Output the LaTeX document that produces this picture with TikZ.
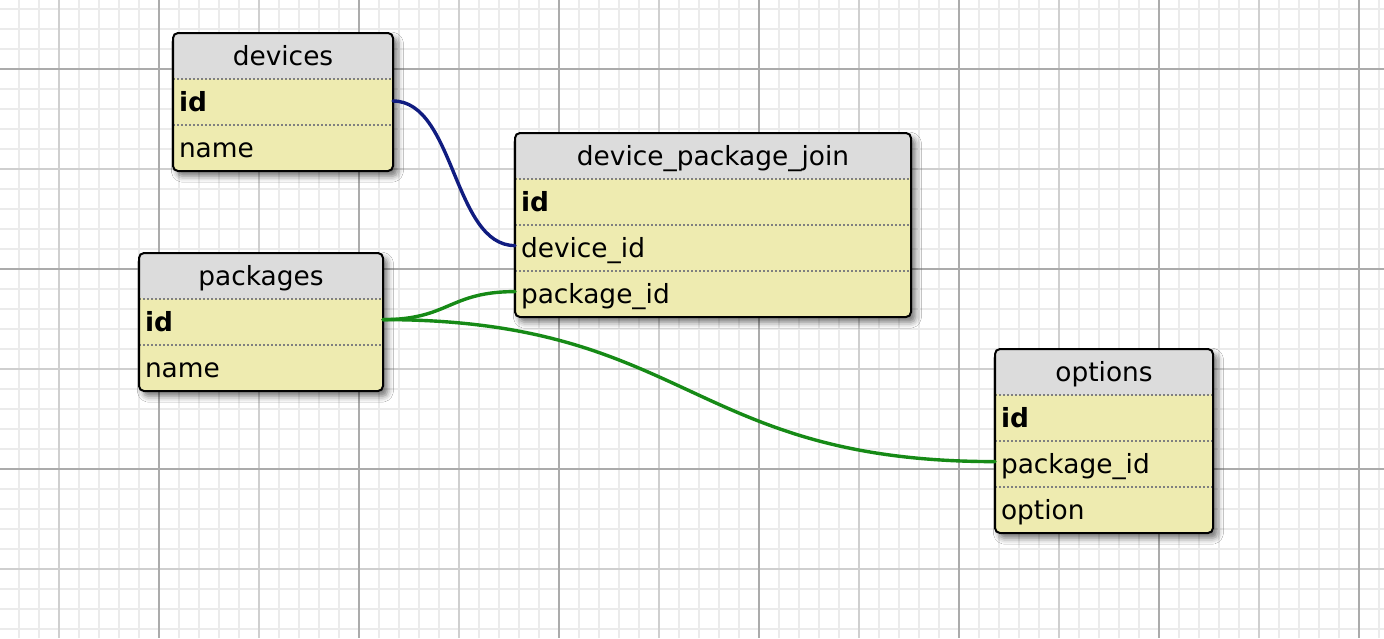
\documentclass[tikz,border=0pt]{standalone}
\usepackage{fontspec}
\setmainfont{DejaVu Sans}
\usetikzlibrary{shadows.blur}
\definecolor{hdrfill}{HTML}{DCDCDC}
\definecolor{rowfill}{HTML}{EEEBB0}
\definecolor{sepgray}{HTML}{808080}
\definecolor{gridminor}{HTML}{EBEBEB}
\definecolor{gridmid}{HTML}{CFCFCF}
\definecolor{gridmajor}{HTML}{ABABAB}
\definecolor{linkblue}{HTML}{101C80}
\definecolor{linkgreen}{HTML}{168A16}
\tikzset{
  tablebox/.style={fill=rowfill, rounded corners=2.5pt, inner sep=0pt, outer sep=0pt, anchor=north west,
    blur shadow={shadow xshift=2.2pt, shadow yshift=-2.6pt, shadow blur radius=3pt, shadow opacity=55},
    path picture={\fill[hdrfill] (path picture bounding box.north west) rectangle ([yshift=-23pt]path picture bounding box.north east);}},
  frame/.style={draw=black, line width=1pt, rounded corners=2.5pt},
  title/.style={inner sep=0pt, font=\fontsize{13.2}{16}\selectfont, text height=9.3pt, text depth=0pt},
  field/.style={anchor=north west, inner xsep=3pt, inner ysep=0pt, outer sep=0pt, minimum height=23pt, align=left,
    font=\fontsize{13.2}{16}\selectfont, text height=9.3pt, text depth=0pt},
  sepline/.style={draw=sepgray, line width=0.9pt, dash pattern=on 0.9pt off 1.1pt},
  link/.style={line width=1.7pt, line cap=round},
  minorgrid/.style={draw=gridminor, line width=1pt},
  midgrid/.style={draw=gridmid, line width=1pt},
  majorgrid/.style={draw=gridmajor, line width=1pt},
}
\begin{document}
\begin{tikzpicture}[x=0.5pt, y=-0.5pt]
\useasboundingbox (0,0) rectangle (1384,638);
\fill[white] (0,0) rectangle (1384,638);
% grid
\foreach \i in {0,...,68} \draw[minorgrid] ({18.7+20*\i},0) -- ({18.7+20*\i},638);
\foreach \j in {0,...,31} \draw[minorgrid] (0,{8.7+20*\j}) -- (1384,{8.7+20*\j});
\foreach \i in {0,...,6} \draw[midgrid] ({58.7+200*\i},0) -- ({58.7+200*\i},638);
\foreach \j in {0,...,2} \draw[midgrid] (0,{168.7+200*\j}) -- (1384,{168.7+200*\j});
\foreach \i in {0,...,6} \draw[majorgrid] ({158.7+200*\i},0) -- ({158.7+200*\i},638);
\foreach \j in {0,...,2} \draw[majorgrid] (0,{68.7+200*\j}) -- (1384,{68.7+200*\j});

% devices
\node[tablebox, minimum width=110pt, minimum height=69pt] (dev) at (173,33) {};
\node[title] (dev-t) at ([yshift=-11.5pt]dev.north) {devices};
\node[field, text width=104pt] (dev-id) at ([yshift=-23pt]dev.north west) {\bfseries id};
\node[field, text width=104pt] (dev-name) at (dev-id.south west) {name};
\draw[sepline] (dev-id.north west) -- (dev-id.north east);
\draw[sepline] (dev-name.north west) -- (dev-name.north east);
\draw[frame] (dev.north west) rectangle (dev.south east);

% packages
\node[tablebox, minimum width=122pt, minimum height=69pt] (pkg) at (139,253) {};
\node[title] (pkg-t) at ([yshift=-11.5pt]pkg.north) {packages};
\node[field, text width=116pt] (pkg-id) at ([yshift=-23pt]pkg.north west) {\bfseries id};
\node[field, text width=116pt] (pkg-name) at (pkg-id.south west) {name};
\draw[sepline] (pkg-id.north west) -- (pkg-id.north east);
\draw[sepline] (pkg-name.north west) -- (pkg-name.north east);
\draw[frame] (pkg.north west) rectangle (pkg.south east);

% device_package_join
\node[tablebox, minimum width=198pt, minimum height=92pt] (dpj) at (515,133) {};
\node[title] (dpj-t) at ([yshift=-11.5pt]dpj.north) {device\_package\_join};
\node[field, text width=192pt] (dpj-id) at ([yshift=-23pt]dpj.north west) {\bfseries id};
\node[field, text width=192pt] (dpj-dev) at (dpj-id.south west) {device\_id};
\node[field, text width=192pt] (dpj-pkg) at (dpj-dev.south west) {package\_id};
\draw[sepline] (dpj-id.north west) -- (dpj-id.north east);
\draw[sepline] (dpj-dev.north west) -- (dpj-dev.north east);
\draw[sepline] (dpj-pkg.north west) -- (dpj-pkg.north east);
\draw[frame] (dpj.north west) rectangle (dpj.south east);

% options
\node[tablebox, minimum width=109pt, minimum height=92pt] (opt) at (995,349) {};
\node[title] (opt-t) at ([yshift=-11.5pt]opt.north) {options};
\node[field, text width=103pt] (opt-id) at ([yshift=-23pt]opt.north west) {\bfseries id};
\node[field, text width=103pt] (opt-pkg) at (opt-id.south west) {package\_id};
\node[field, text width=103pt] (opt-opt) at (opt-pkg.south west) {option};
\draw[sepline] (opt-id.north west) -- (opt-id.north east);
\draw[sepline] (opt-pkg.north west) -- (opt-pkg.north east);
\draw[sepline] (opt-opt.north west) -- (opt-opt.north east);
\draw[frame] (opt.north west) rectangle (opt.south east);

% links
\draw[link, linkblue] ([yshift=0.5pt]dev-id.east) .. controls +(62,0) and +(-62,0) .. ([yshift=1.2pt]dpj-dev.west);
\draw[link, linkgreen] ([yshift=1.2pt]pkg-id.east) .. controls +(66,0) and +(-66,0) .. ([yshift=1.2pt]dpj-pkg.west);
\draw[link, linkgreen] ([yshift=1.2pt]pkg-id.east) .. controls +(306,0) and +(-306,0) .. ([yshift=1.2pt]opt-pkg.west);
\end{tikzpicture}
\end{document}
